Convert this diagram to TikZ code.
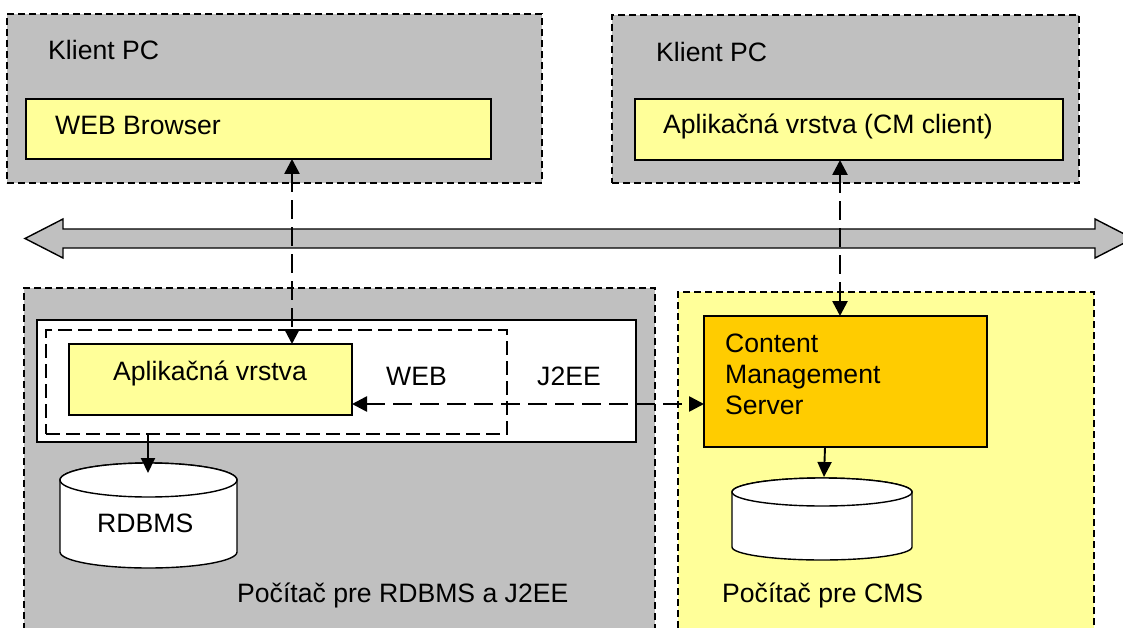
\documentclass[tikz,border=0pt]{standalone}
\usepackage{fontspec}
\setmainfont{Liberation Sans}
\usetikzlibrary{arrows.meta,fit}
\definecolor{pcgray}{HTML}{C0C0C0}
\definecolor{ltyellow}{HTML}{FFFF99}
\definecolor{cmsorange}{HTML}{FFCC00}
\begin{document}
\begin{tikzpicture}[x=1pt,y=-1pt,
  outerbox/.style={draw, line width=1.3pt, dash pattern=on 7pt off 4pt, inner sep=0pt, outer sep=0pt},
  solidbox/.style={draw, line width=1.4pt, inner sep=0pt, outer sep=0pt},
  webdash/.style={draw, line width=1.6pt, dash pattern=on 14pt off 6pt, inner sep=0pt, outer sep=0pt},
  lbl/.style={anchor=base west, inner sep=0pt, font=\fontsize{26.6}{31}\selectfont},
  conn/.style={line width=2.6pt, dash pattern=on 19pt off 8pt,
     {Triangle[length=15pt,width=15pt]}-{Triangle[length=15pt,width=15pt]}},
  solidarrow/.style={line width=1.9pt, -{Triangle[length=15pt,width=14pt]}},
  cyl/.style={draw, line width=1.4pt, fill=white},
  bus/.style={draw, line width=1.4pt, fill=pcgray}
]
\clip (0,0) rectangle (1123,628);
\fill[white] (0,0) rectangle (1123,628);

% top client boxes
\node[outerbox, fill=pcgray, fit={(7,14) (542,183)}] (klient1) {};
\node[solidbox, fill=ltyellow, fit={(26,99) (491,159)}] (web) {};
\node[outerbox, fill=pcgray, fit={(612,15) (1079,183)}] (klient2) {};
\node[solidbox, fill=ltyellow, fit={(635,99) (1063,160)}] (cmc) {};

% bottom computers
\node[outerbox, fill=pcgray, fit={(24,288) (655,660)}] (pc1) {};
\node[solidbox, fill=white, fit={(37,320) (636,442)}] (j2ee) {};
\node[webdash, fit={(46,330) (507,434)}] (webbox) {};
\node[solidbox, fill=ltyellow, fit={(69,344) (352,415)}] (appl) {};
\node[outerbox, fill=ltyellow, fit={(678,292) (1094,660)}] (pc2) {};
\node[solidbox, fill=cmsorange, fit={(704,316) (987,447)}] (cms) {};

% databases
\draw[cyl] (60,480) -- (60,552) arc[start angle=180, end angle=0, x radius=88.5, y radius=16]
   -- (237,480) arc[start angle=0, end angle=-180, x radius=88.5, y radius=17] -- cycle;
\draw[cyl] (148.5,480) ellipse [x radius=88.5, y radius=17];
\draw[cyl] (732,492) -- (732,547) arc[start angle=180, end angle=0, x radius=90, y radius=13]
   -- (912,492) arc[start angle=0, end angle=-180, x radius=90, y radius=14] -- cycle;
\draw[cyl] (822,492) ellipse [x radius=90, y radius=14];

% network bus
\draw[bus] (25,238.5) -- (63,219) -- (63,229) -- (1095,229) -- (1095,219) -- (1133,238.5)
   -- (1095,258) -- (1095,248) -- (63,248) -- (63,258) -- cycle;

% labels
\node[lbl] (k1) at (48,60) {Klient PC};
\node[lbl] (t1) at (55,135) {WEB Browser};
\node[lbl] (k2) at (656,62) {Klient PC};
\node[lbl] (t2) at (663,134) {Aplikačná vrstva (CM client)};
\node[lbl] (t3) at (113,380) {Aplikačná vrstva};
\node[lbl] (t4) at (386,385) {WEB};
\node[lbl] (t5) at (537,385) {J2EE};
\node[lbl] (t6) at (725,352) {Content};
\node[lbl] (t7) at (725,383) {Management};
\node[lbl] (t8) at (725,414) {Server};
\node[lbl] (t9) at (97,532) {RDBMS};
\node[lbl] (t10) at (237,602) {Počítač pre RDBMS a J2EE};
\node[lbl] (t11) at (722,602) {Počítač pre CMS};

% connectors
\coordinate (xa) at (292,0);
\coordinate (xb) at (840,0);
\coordinate (yh) at (0,404);
\coordinate (xr) at (148,0);
\coordinate (xc) at (825,0);
\coordinate (rdbtop) at (148,473);
\coordinate (cmsdb) at (824,477);
\draw[conn] (web.south -| xa) -- (appl.north -| xa);
\draw[conn] (cmc.south -| xb) -- (cms.north -| xb);
\draw[conn] (appl.east |- yh) -- (cms.west |- yh);
\draw[solidarrow] (webbox.south -| xr) -- (rdbtop);
\draw[solidarrow] (cms.south -| xc) -- (cmsdb);
\end{tikzpicture}
\end{document}
